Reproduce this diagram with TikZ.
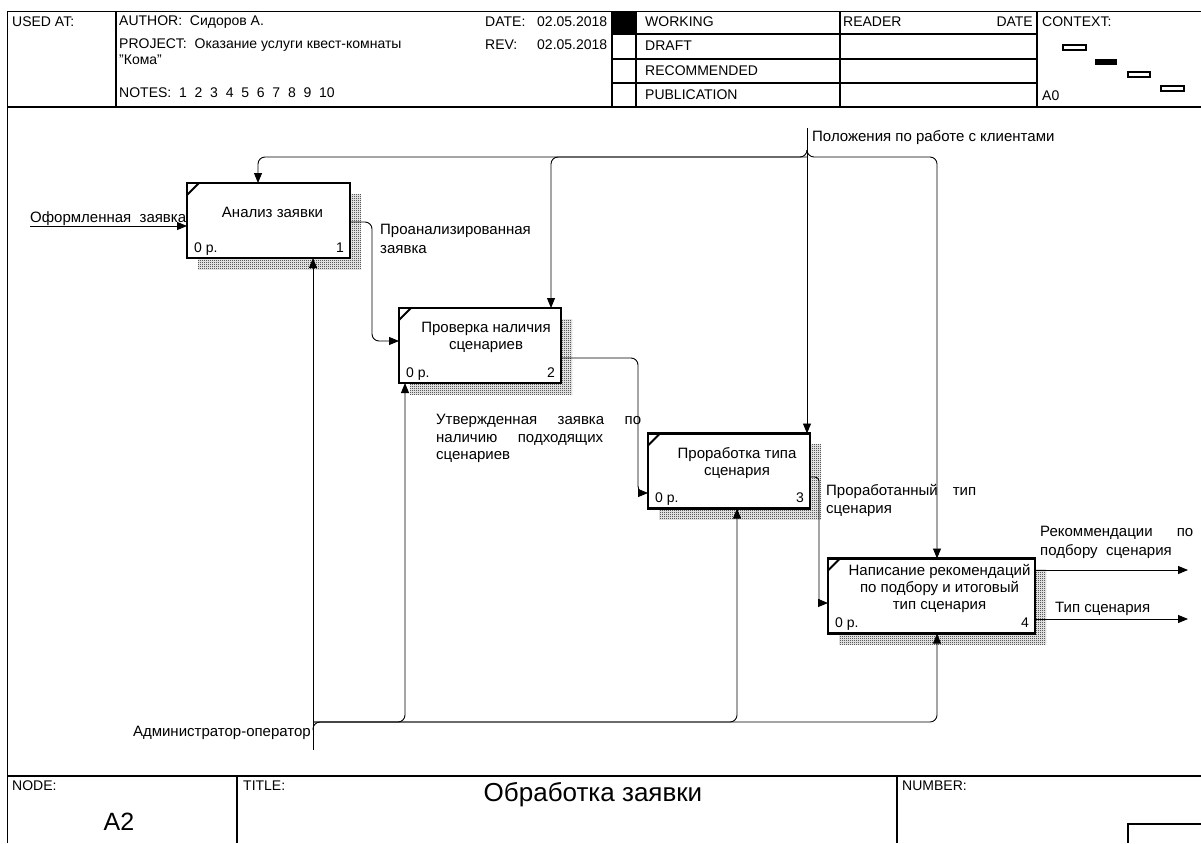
\documentclass[tikz,border=0pt]{standalone}
\usepackage{fontspec}
\setmainfont{Liberation Sans}
\usetikzlibrary{arrows.meta,calc,shadows,patterns}

\pgfdeclarepatternformonly{idefdots}{\pgfpointorigin}{\pgfpoint{2pt}{2pt}}{\pgfpoint{2pt}{2pt}}{%
  \pgfpathrectangle{\pgfpointorigin}{\pgfpoint{1pt}{1pt}}%
  \pgfpathrectangle{\pgfpoint{1pt}{1pt}}{\pgfpoint{1pt}{1pt}}%
  \pgfusepath{fill}}

\tikzset{
  txt/.style={font=\fontsize{14}{17}\selectfont, inner sep=0pt},
  frame/.style={line width=1.2pt},
  func/.style={draw, line width=2.4pt, fill=white, outer sep=0pt, inner sep=0pt,
    minimum width=#1, minimum height=75pt,
    drop shadow={shadow xshift=11pt, shadow yshift=-11pt, opacity=1,
      pattern=idefdots, pattern color=black}},
  ftext/.style={inner sep=0pt, font=\fontsize{15}{17}\selectfont, align=center},
  albl/.style={inner sep=0pt, font=\fontsize{15}{18.5}\selectfont},
  conn/.style={line width=0.9pt, rounded corners=7pt},
  arr/.style={conn, -{Triangle[length=10pt,width=8pt]}},
}

% corner tick, cost and number of a function box
\newcommand{\boxmarks}[2]{%
  \draw[line width=2pt] ($(#1.north west)+(0,12)$) -- ($(#1.north west)+(12,0)$);
  \node[txt, anchor=base west] (#1-cost) at ($(#1.south west)+(7,-6)$) {0 р.};
  \node[txt, anchor=base east] (#1-num) at ($(#1.south east)+(-6,-6)$) {#2};
}

\begin{document}
\begin{tikzpicture}[x=1pt, y=-1pt]
\useasboundingbox (0,0) rectangle (1201,843);

% header
\draw[frame] (7.5,843) -- (7.5,11.5) -- (1201,11.5);
\draw[frame] (7.5,107) -- (1201,107);
\foreach \x in {116,612,636,840,1037}
  \draw[frame] (\x,11.5) -- (\x,107);
\foreach \y in {34,59,83}
  \draw[frame] (612,\y) -- (1037,\y);
\fill (612,11.5) rectangle (636,34);

\node[txt, anchor=west] (usedat) at (12,22) {USED AT:};
\node[txt, anchor=west] (author) at (119,22) {AUTHOR:~~Сидоров А.};
\node[txt, anchor=west] (project) at (119,45) {PROJECT:~~Оказание услуги квест-комнаты};
\node[txt, anchor=west] (project2) at (119,60) {"Кома"};
\node[txt, anchor=west] (notes) at (119,93) {NOTES:~~1~~2~~3~~4~~5~~6~~7~~8~~9~~10};
\node[txt, anchor=west] (date) at (485,22) {\makebox[52pt][l]{DATE:}02.05.2018};
\node[txt, anchor=west] (rev) at (485,45) {\makebox[52pt][l]{REV:}02.05.2018};
\node[txt, anchor=west] (working) at (645,22) {WORKING};
\node[txt, anchor=west] (draft) at (645,46) {DRAFT};
\node[txt, anchor=west] (recomm) at (645,71) {RECOMMENDED};
\node[txt, anchor=west] (public) at (645,95) {PUBLICATION};
\node[txt, anchor=west] (reader) at (843,22) {READER};
\node[txt, anchor=east] (rdate) at (1033,22) {DATE};
\node[txt, anchor=west] (context) at (1042,22) {CONTEXT:};
\node[txt, anchor=west] (ctxnode) at (1042,96) {A0};
\draw[frame] (1063,45) rectangle (1086,50);
\fill (1095,59) rectangle (1117,65);
\draw[frame] (1128,72) rectangle (1150,77);
\draw[frame] (1161,86) rectangle (1184,91);

% function boxes
\node[func=163pt] (anl) at (268.5,220.5) {};
\node[func=162pt] (chk) at (480,345.5) {};
\node[func=162pt] (wrk) at (729,471) {};
\node[func=207pt] (rec) at (931.5,596) {};

\node[ftext] (anl-t) at ($(anl.center)+(4,-8)$) {Анализ заявки};
\node[ftext] (chk-t) at ($(chk.center)+(6,-8)$) {Проверка наличия\\сценариев};
\node[ftext] (wrk-t) at ($(wrk.center)+(8,-8)$) {Проработка типа\\сценария};
\node[ftext] (rec-t) at ($(rec.center)+(8,-8)$) {Написание рекомендаций\\по подбору и итоговый\\тип сценария};

\boxmarks{anl}{1}
\boxmarks{chk}{2}
\boxmarks{wrk}{3}
\boxmarks{rec}{4}

% inputs and outputs
\coordinate (inp) at (30,226);
\draw[arr] (inp) -- (inp -| anl.west);
\node[albl, anchor=base west] (inp-l) at (30,222) {Оформленная~~заявка};

\draw[arr] ($(anl.east)+(0,1.5)$) -- ++(22,0) |- ($(chk.west)+(0,-4.5)$);
\node[albl, anchor=north west, align=left] (anl-o) at (380,224) {Проанализированная\\заявка};

\draw[arr] ($(chk.east)+(0,12.5)$) -- ++(77,0) |- ($(wrk.west)+(0,22)$);
\node[albl, anchor=north west, align=left,
  font=\fontsize{15}{17.5}\selectfont] (chk-o) at (436,414)
  {\makebox[205pt][s]{Утвержденная заявка по}\\
   \makebox[167pt][s]{наличию подходящих}\\
   сценариев};

\draw[arr, rounded corners=4pt] ($(wrk.east)+(0,6)$) -- ++(9,0) |- ($(rec.west)+(0,7)$);
\node[albl, anchor=north west, align=left] (wrk-o) at (826,484)
  {\makebox[150pt][s]{Проработанный тип}\\сценария};

\coordinate (out1) at (1188,570);
\coordinate (out2) at (1188,619);
\draw[arr] (out1 -| rec.east) -- (out1);
\draw[arr] (out2 -| rec.east) -- (out2);
\node[albl, anchor=north west, align=left] (out1-l) at (1040,526)
  {\makebox[153pt][s]{Рекоммендации по}\\подбору~~сценария};
\node[albl, anchor=west] (out2-l) at (1055,609) {Тип сценария};

% controls
\coordinate (ctl) at (807,128);
\coordinate (fork) at (807,157);
\draw[arr] (ctl) -- ($(wrk.north)+(78,0)$);
\draw[arr] ($(fork)+(0,-7)$) -- (fork) -| ($(anl.north)+(-10.5,0)$);
\draw[arr] (fork) -| ($(chk.north)+(71,0)$);
\draw[arr] ($(fork)+(0,-7)$) -- (fork) -| ($(rec.north)+(5.5,0)$);
\node[albl, anchor=west] (ctl-l) at (812,138) {Положения по работе с клиентами};

% mechanisms
\coordinate (mech) at (313,750);
\coordinate (jn) at (313,722);
\draw[arr] (mech) -- ($(anl.south)+(44.5,0)$);
\draw[arr] ($(jn)+(0,8)$) -- (jn) -| ($(chk.south)+(-75,0)$);
\draw[arr] (jn) -| ($(wrk.south)+(8,0)$);
\draw[arr] (jn) -| ($(rec.south)+(5.5,0)$);
\node[albl, anchor=base east] (mech-l) at (311,736) {Администратор-оператор};

% title block
\draw[frame] (7.5,776) -- (1201,776);
\draw[frame] (237,776) -- (237,843);
\draw[frame] (897,776) -- (897,843);
\draw[frame] (1201,824) -| (1128,843);
\node[txt, anchor=north west] (nodelbl) at (12,781) {NODE:};
\node[txt, anchor=north west] (titlelbl) at (243,781) {TITLE:};
\node[txt, anchor=north west] (numlbl) at (902,781) {NUMBER:};
\node[inner sep=0pt, font=\fontsize{25}{30}\selectfont] (nodeno) at (119,822) {A2};
\node[inner sep=0pt, font=\fontsize{26}{30}\selectfont] (title) at (593,795) {Обработка заявки};
\end{tikzpicture}
\end{document}
